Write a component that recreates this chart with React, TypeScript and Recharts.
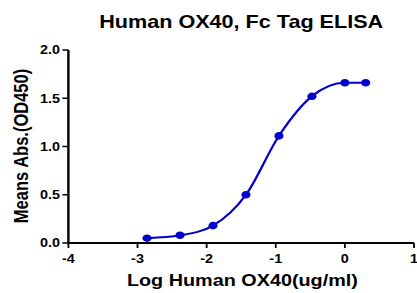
import React from 'react';
import { LineChart, Line, XAxis, YAxis } from 'recharts';

const logConc = [-2.862, -2.385, -1.908, -1.431, -0.954, -0.477, 0, 0.301];
const meanAbs = [0.05, 0.08, 0.18, 0.5, 1.11, 1.52, 1.66, 1.66];
const xTicks = [-4, -3, -2, -1, 0, 1];
const yTicks = [0, 0.5, 1.0, 1.5, 2.0];
const title = 'Human OX40, Fc Tag ELISA';
const xLabel = 'Log Human OX40(ug/ml)';
const yLabel = 'Means Abs.(OD450)';

const data = logConc.map((x, i) => ({ x, y: meanAbs[i] }));

const SX = 1.2;
const W = 348;
const H = 293;
const FONT = '"Liberation Sans", Arial, sans-serif';
const BLUE = '#0000cc';

const tickStyle = { fill: '#000', fontSize: 12, fontWeight: 'bold', fontFamily: FONT };

export default function App() {
  return (
    <div
      style={{
        position: 'absolute',
        left: 0,
        top: 0,
        width: W,
        height: H,
        transform: `scaleX(${SX})`,
        transformOrigin: '0 0',
        background: '#fff',
      }}
    >
      <LineChart width={W} height={H} data={data} margin={{ top: 50, right: 3, bottom: 0, left: 0 }}>
        <XAxis
          dataKey="x"
          type="number"
          domain={[-4, 1]}
          ticks={xTicks}
          allowDataOverflow
          height={50}
          axisLine={{ stroke: '#000', strokeWidth: 2 }}
          tickLine={{ stroke: '#000', strokeWidth: 1.5 }}
          tickSize={5}
          tickMargin={6}
          tick={tickStyle}
        />
        <YAxis
          type="number"
          domain={[0, 2]}
          ticks={yTicks}
          width={57}
          allowDataOverflow
          tickFormatter={(v: number) => v.toFixed(1)}
          axisLine={{ stroke: '#000', strokeWidth: 2 }}
          tickLine={{ stroke: '#000', strokeWidth: 1.5 }}
          tickSize={5}
          tick={tickStyle}
        />
        <Line
          dataKey="y"
          type="monotone"
          stroke={BLUE}
          strokeWidth={2}
          dot={{ r: 3.8, fill: BLUE, stroke: BLUE, strokeWidth: 0 }}
          isAnimationActive={false}
        />
      </LineChart>
      <svg
        style={{ position: 'absolute', left: 0, top: 0, pointerEvents: 'none' }}
        width={W}
        height={H}
      >
        <text x={201} y={28} textAnchor="middle" fontFamily={FONT} fontWeight="bold" fontSize={18} fill="#000">
          {title}
        </text>
        <text x={202} y={286} textAnchor="middle" fontFamily={FONT} fontWeight="bold" fontSize={16.5} fill="#000">
          {xLabel}
        </text>
        <text
          x={23.5}
          y={146}
          textAnchor="middle"
          transform="rotate(-90 23.5 146)"
          fontFamily={FONT}
          fontWeight="bold"
          fontSize={16.5}
          fill="#000"
        >
          {yLabel}
        </text>
      </svg>
    </div>
  );
}
